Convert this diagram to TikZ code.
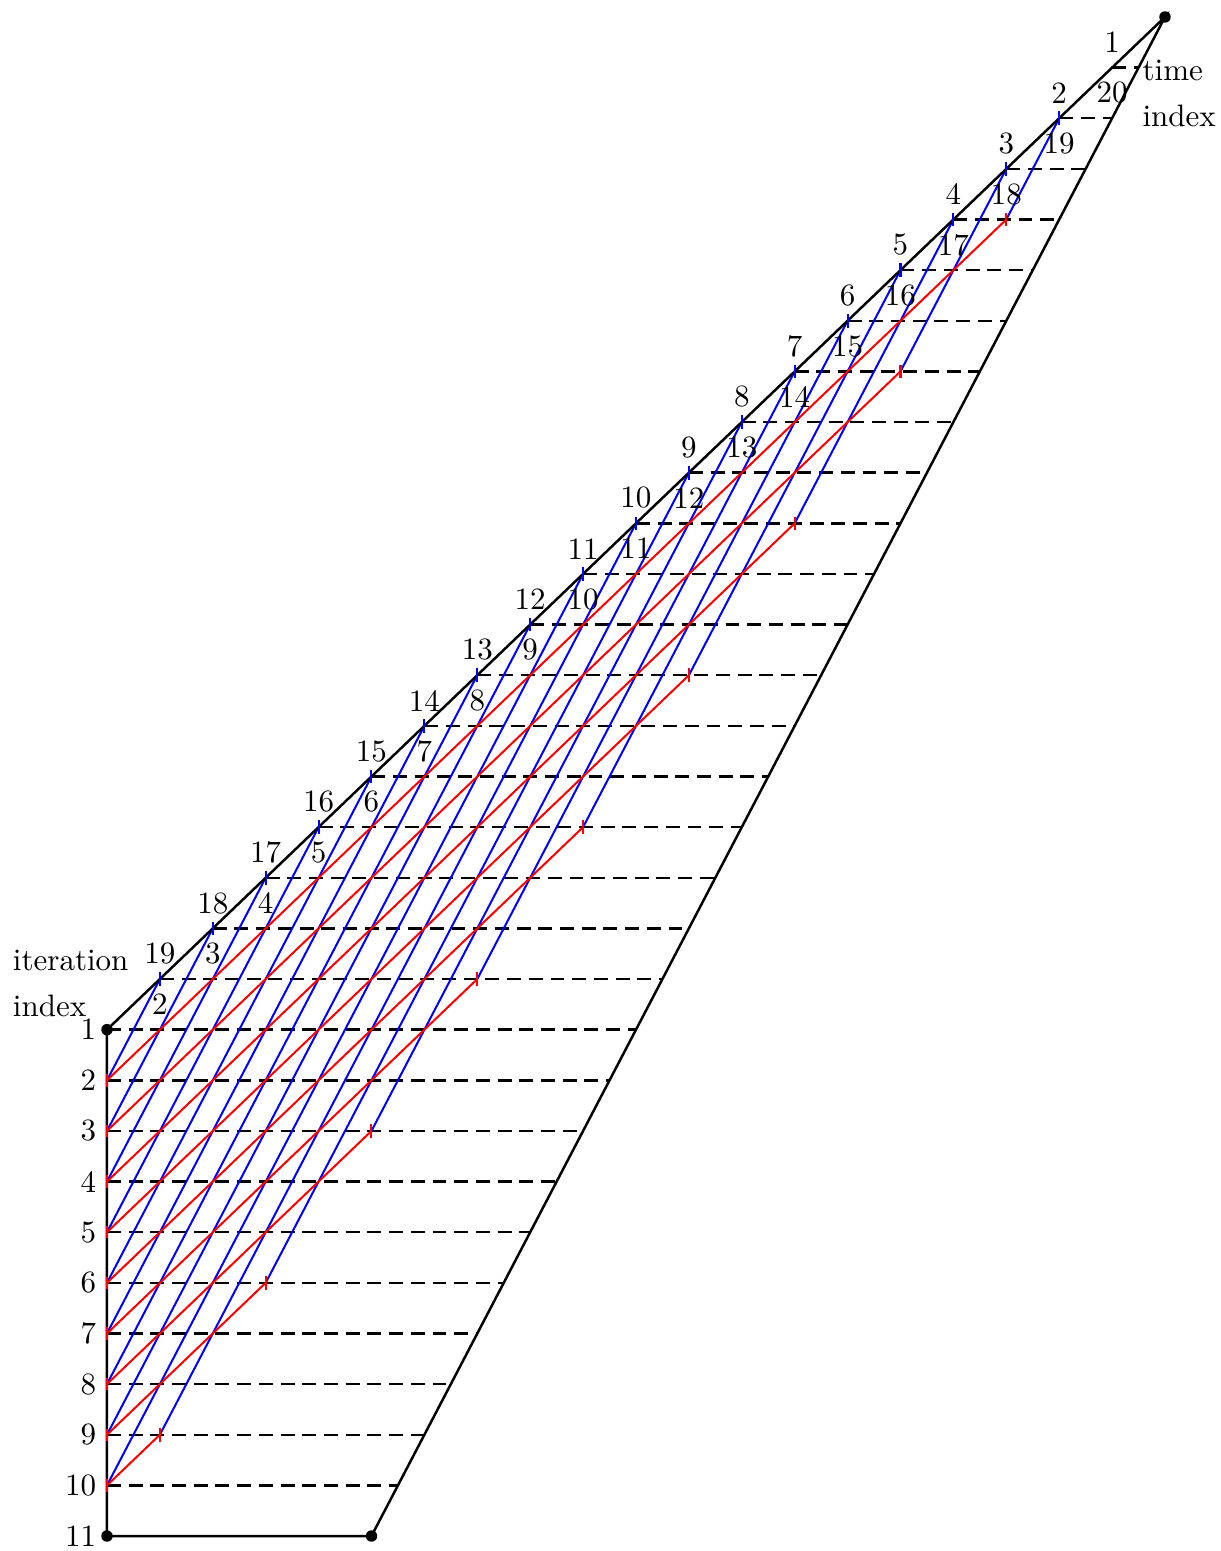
\documentclass[tikz,border=0pt]{standalone}
\begin{document}
\begin{tikzpicture}[x=8.532pt,y=16.333pt,
  edgeline/.style={black, thick},
  gridline/.style={black, thick, dash pattern=on 4.5pt off 2.5pt},
  bl/.style={blue, line width=0.65pt},
  rd/.style={red, line width=0.65pt},
  dotnode/.style={circle, fill=black, inner sep=0pt, minimum size=3.7pt},
  numlab/.style={inner sep=3.33pt},
  wordlab/.style={inner sep=0pt, anchor=base west}]
\useasboundingbox (-4.045,-0.296) rectangle (42.08,30.336);
% lattice coordinates
\foreach \r in {0,...,10} \coordinate (L\r) at (0,\r);
\foreach \r in {10,...,30} \coordinate (U\r) at ({2*(\r-10)},\r);
\foreach \r in {0,...,30} \coordinate (R\r) at ({10+\r},\r);
\foreach \r in {1,...,9} \coordinate (E\r) at ({4*\r-2},{3*\r-1});
% dashed horizontals
\foreach \r in {1,...,9} \draw[gridline] (L\r) -- (R\r);
\foreach \r in {10,...,29} \draw[gridline] (U\r) -- (R\r);
% coloured lines
\foreach \r in {1,...,9} {
  \pgfmathtruncatemacro\ra{20-\r}
  \pgfmathtruncatemacro\rb{\r+19}
  \draw[bl] (L\r) -- (U\ra);
  \draw[bl] (E\r) -- (U\rb);
  \draw[rd] (L\r) -- (E\r);
}
% outline
\draw[edgeline] (U30) -- (L10) -- (L0) -- (R0) -- cycle;
% ticks
\foreach \r in {11,...,28} \draw[bl] ([yshift=-2.2pt]U\r) -- ([yshift=2.2pt]U\r);
\foreach \r in {1,...,9} {
  \draw[rd] ([yshift=-2pt]L\r) -- ([yshift=2pt]L\r);
  \draw[rd] ([yshift=-2.2pt]E\r) -- ([yshift=2.2pt]E\r);
}
% dots
\node[dotnode] (d1) at (L10) {};
\node[dotnode] (d2) at (L0) {};
\node[dotnode] (d3) at (R0) {};
\node[dotnode] (d4) at (U30) {};
% iteration labels
\foreach \r in {0,...,10} {
  \pgfmathtruncatemacro\k{11-\r}
  \node[numlab, left] (it\r) at (L\r) {\k};
}
% time labels
\foreach \r in {11,...,29} {
  \pgfmathtruncatemacro\ka{30-\r}
  \pgfmathtruncatemacro\kb{\r-9}
  \node[numlab, above=1.2pt] (ta\r) at (U\r) {\ka};
  \node[numlab, below=1.2pt] (tb\r) at (U\r) {\kb};
}
% axis words
\node[wordlab] (w1) at (-3.58,11.165) {iteration};
\node[wordlab] (w2) at (-3.58,10.27) {index};
\node[wordlab] (w3) at (39.13,28.74) {time};
\node[wordlab] (w4) at (39.13,27.83) {index};
\end{tikzpicture}
\end{document}
